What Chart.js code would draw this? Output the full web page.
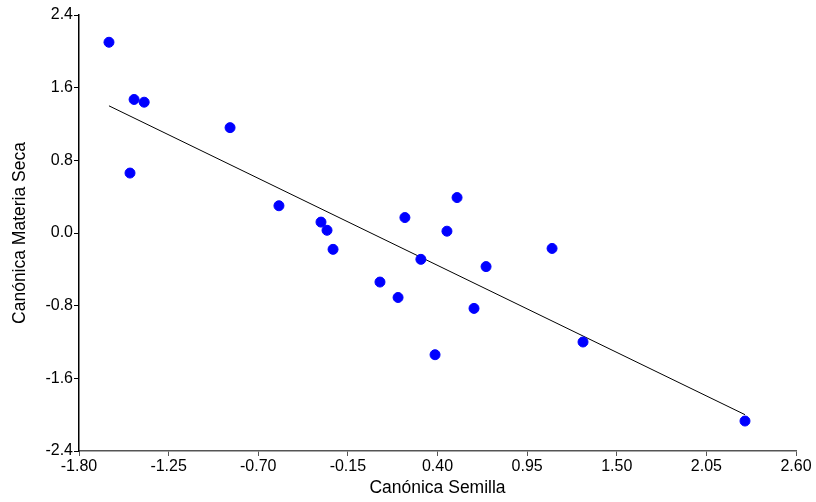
<!DOCTYPE html>
<html>
<head>
<meta charset="utf-8">
<script src="https://cdn.jsdelivr.net/npm/chart.js"></script>
<style>
  html, body { margin: 0; padding: 0; background: #fff; }
  #wrap { width: 816px; height: 502px; }
</style>
</head>
<body>
<div id="wrap"><canvas id="chart" width="816" height="502"></canvas></div>
<script>
// --- Datos ---
const semilla = [-1.616, -1.462, -1.400, -1.487, -0.873, -0.573, -0.315, -0.278, -0.241,
    0.047, 0.158, 0.200, 0.298, 0.385, 0.458, 0.520, 0.624, 0.698, 1.103, 1.293, 2.287];
const materiaSeca = [2.10, 1.47, 1.44, 0.66, 1.16, 0.30, 0.12, 0.03, -0.18,
    -0.54, -0.71, 0.17, -0.29, -1.34, 0.02, 0.39, -0.83, -0.37, -0.17, -1.20, -2.07];

// recta de ajuste (extremos)
const ajusteX = [-1.616, 2.287];
const ajusteY = [1.40, -2.00];

const xTicks = [-1.80, -1.25, -0.70, -0.15, 0.40, 0.95, 1.50, 2.05, 2.60];
const yTicks = [-2.4, -1.6, -0.8, 0.0, 0.8, 1.6, 2.4];

const font = { family: 'Liberation Sans, Arial, sans-serif', size: 16 };
const titleFont = { family: 'Liberation Sans, Arial, sans-serif', size: 17.5 };
const axisColor = '#555555';

new Chart(document.getElementById('chart'), {
    type: 'scatter',
    data: {
        datasets: [
            {
                data: semilla.map((x, i) => ({ x, y: materiaSeca[i] })),
                backgroundColor: '#0000ff',
                borderColor: '#0000ff',
                pointRadius: 5,
                pointHoverRadius: 5,
                order: 1
            },
            {
                type: 'line',
                data: ajusteX.map((x, i) => ({ x, y: ajusteY[i] })),
                borderColor: '#000000',
                borderWidth: 1,
                pointRadius: 0,
                fill: false,
                order: 2
            }
        ]
    },
    options: {
        responsive: false,
        animation: false,
        layout: { padding: { top: 15, right: 20, left: 0, bottom: 0 } },
        plugins: { legend: { display: false }, tooltip: { enabled: false } },
        scales: {
            x: {
                type: 'linear',
                min: -1.80,
                max: 2.60,
                afterBuildTicks: s => { s.ticks = xTicks.map(v => ({ value: v })); },
                afterFit: s => { s.height = 51; },
                ticks: {
                    font, color: '#000', padding: 1, maxRotation: 0,
                    callback: v => v.toFixed(2)
                },
                grid: { drawOnChartArea: false, tickLength: 5, color: axisColor },
                border: { color: axisColor, width: 1.5 },
                title: { display: true, text: 'Canónica Semilla', font: titleFont, color: '#000', padding: { top: 0, bottom: 3 } }
            },
            y: {
                type: 'linear',
                min: -2.4,
                max: 2.4,
                afterBuildTicks: s => { s.ticks = yTicks.map(v => ({ value: v })); },
                afterFit: s => { s.width = 79; },
                ticks: {
                    font, color: '#000', padding: 1,
                    callback: v => v.toFixed(1)
                },
                grid: { drawOnChartArea: false, tickLength: 5, color: '#000' },
                border: { color: '#000', width: 1.5 },
                title: { display: true, text: 'Canónica Materia Seca', font: titleFont, color: '#000', padding: { top: 10, bottom: 0 } }
            }
        }
    }
});
</script>
</body>
</html>
